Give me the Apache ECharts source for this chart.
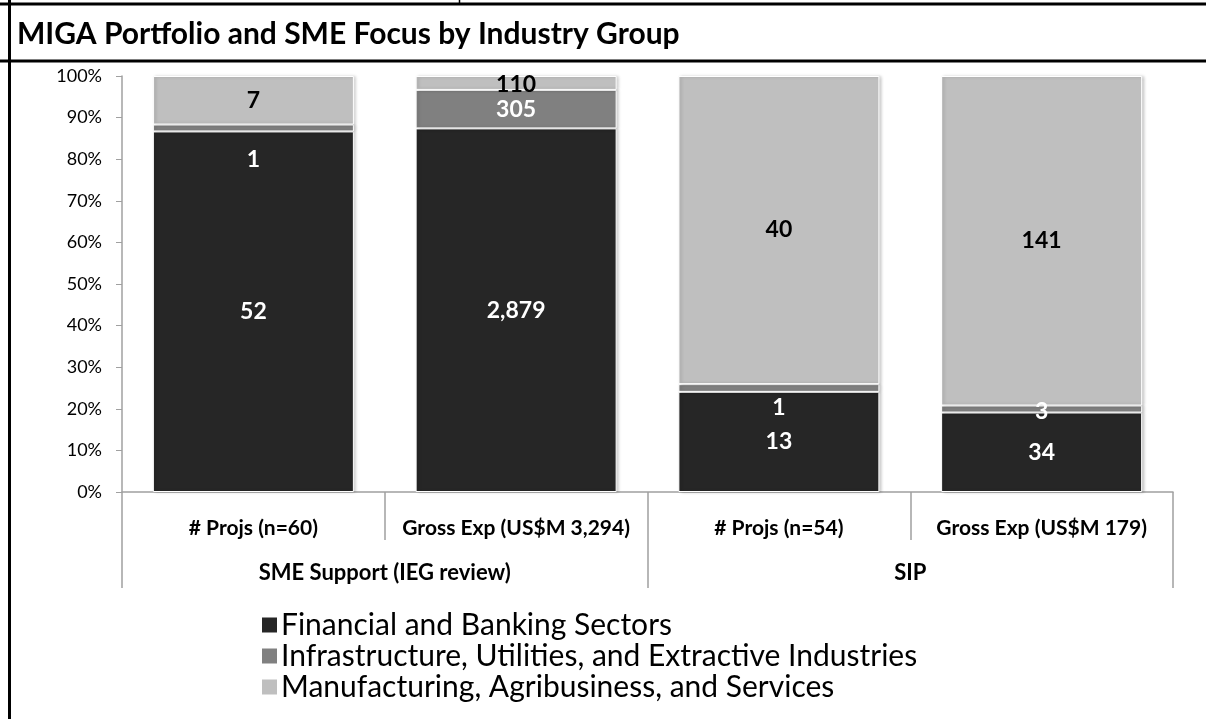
<!DOCTYPE html>
<html>
<head>
<meta charset="utf-8">
<script src="https://cdn.jsdelivr.net/npm/echarts@6/dist/echarts.min.js"></script>
<style>
html, body { margin: 0; padding: 0; background: #fff; }
#main { width: 1206px; height: 719px; }
</style>
</head>
<body>
<div id="main"></div>
<script>
// 分类 / 分组
const categories = ['# Projs (n=60)', 'Gross Exp (US$M 3,294)', '# Projs (n=54)', 'Gross Exp (US$M 179)'];
const groups = ['SME Support (IEG review)', 'SIP'];
const seriesNames = ['Financial and Banking Sectors', 'Infrastructure, Utilities, and Extractive Industries', 'Manufacturing, Agribusiness, and Services'];
// 各行业原始数值
const financial = [52, 2879, 13, 34];
const infrastructure = [1, 305, 1, 3];
const manufacturing = [7, 110, 40, 141];
// y 轴刻度 (%)
const yTicks = [0, 10, 20, 30, 40, 50, 60, 70, 80, 90, 100];

const font = 'Lato, "Open Sans", sans-serif';
const colors = ['#262626', '#808080', '#bfbfbf'];
const labelColors = ['#fff', '#fff', '#000'];
const raw = [financial, infrastructure, manufacturing];
const totals = categories.map((c, i) => raw.reduce((s, arr) => s + arr[i], 0));

// 小块的标签手动下移，和原图一致
const labelShift = { '1-0': 32, '1-2': 20, '1-3': 3, '2-1': 2 };

const series = raw.map((arr, si) => ({
    name: seriesNames[si],
    type: 'bar',
    stack: 'total',
    barCategoryGap: '23.5%',
    xAxisIndex: 0,
    itemStyle: {
        color: colors[si],
        borderColor: '#fff',
        borderWidth: 1,
        shadowColor: 'rgba(0,0,0,0.22)',
        shadowBlur: 3,
        shadowOffsetX: 2
    },
    label: {
        show: true,
        position: 'inside',
        color: labelColors[si],
        fontFamily: font,
        fontWeight: 'bold',
        fontSize: 23,
        formatter: p => arr[p.dataIndex].toLocaleString('en-US')
    },
    data: arr.map((v, i) => {
        const item = { value: v / totals[i] * 100 };
        const shift = labelShift[si + '-' + i];
        if (shift) item.label = { offset: [0, shift] };
        return item;
    })
}));

const myChart = echarts.init(document.getElementById('main'));

const option = {
    animation: false,
    backgroundColor: '#fff',
    color: colors,
    textStyle: { fontFamily: font },
    title: {
        text: 'MIGA Portfolio and SME Focus by Industry Group',
        left: 12,
        top: 14,
        textStyle: { fontFamily: font, fontWeight: 'bold', fontSize: 30, color: '#000' }
    },
    graphic: [
        { type: 'line', shape: { x1: 0, y1: 4, x2: 1206, y2: 4 }, style: { stroke: '#000', lineWidth: 3 } },
        { type: 'line', shape: { x1: 0, y1: 61, x2: 1206, y2: 61 }, style: { stroke: '#000', lineWidth: 3 } },
        { type: 'line', shape: { x1: 9.5, y1: 0, x2: 9.5, y2: 719 }, style: { stroke: '#000', lineWidth: 3 } },
        { type: 'line', shape: { x1: 459.5, y1: 0, x2: 459.5, y2: 4 }, style: { stroke: '#000', lineWidth: 1.5 } }
    ],
    legend: {
        orient: 'vertical',
        left: 255,
        top: 605,
        itemWidth: 17,
        itemHeight: 17,
        itemGap: 1,
        icon: 'rect',
        data: seriesNames,
        textStyle: { fontFamily: font, fontSize: 30, color: '#000', padding: [0, 0, 0, -2] }
    },
    grid: { left: 122, right: 33, top: 76, bottom: 227, containLabel: false },
    xAxis: [
        {
            type: 'category',
            data: categories,
            position: 'bottom',
            axisLine: { lineStyle: { color: '#a0a0a0', width: 1.5 } },
            axisTick: { show: true, interval: 0, length: 48, lineStyle: { color: '#a0a0a0', width: 1.5 } },
            axisLabel: { interval: 0, hideOverlap: false, margin: 26, color: '#000', fontFamily: font, fontWeight: 'bold', fontSize: 21 }
        },
        {
            type: 'category',
            data: groups,
            position: 'bottom',
            axisLine: { show: false },
            axisTick: { show: true, interval: 0, length: 96, lineStyle: { color: '#a0a0a0', width: 1.5 } },
            axisLabel: { interval: 0, margin: 70, color: '#000', fontFamily: font, fontWeight: 'bold', fontSize: 22 }
        }
    ],
    yAxis: {
        type: 'value',
        min: 0,
        max: 100,
        interval: 10,
        splitLine: { show: false },
        axisLine: { show: true, lineStyle: { color: '#a0a0a0', width: 1.5 } },
        axisTick: { show: true, length: 6, lineStyle: { color: '#a0a0a0' } },
        axisLabel: {
            margin: 20,
            color: '#000',
            fontFamily: font,
            fontSize: 18,
            formatter: v => (yTicks.includes(v) ? v + '%' : '')
        }
    },
    series: series
};

myChart.setOption(option);
</script>
</body>
</html>
